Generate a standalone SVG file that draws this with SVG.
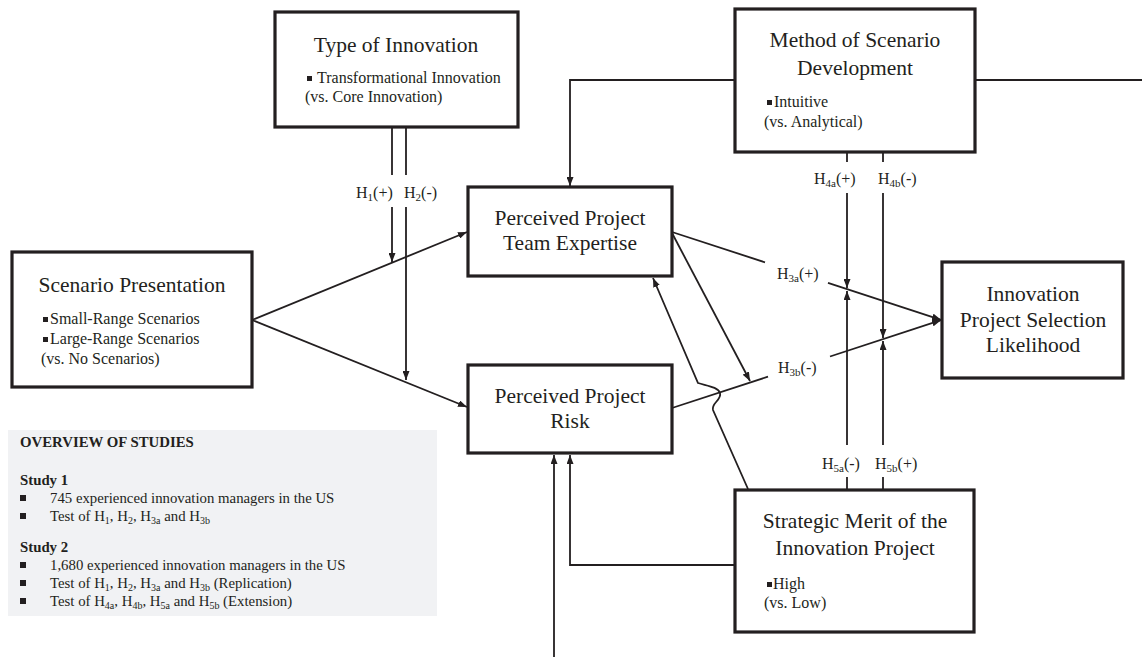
<svg xmlns="http://www.w3.org/2000/svg" width="1142" height="657" viewBox="0 0 1142 657">
<defs>
<marker id="arr" markerUnits="userSpaceOnUse" markerWidth="9" markerHeight="7" refX="9" refY="3.5" orient="auto">
<path d="M0,0 L9,3.5 L0,7 z" fill="#231f20"/>
</marker>
<style>
.box{fill:#fff;stroke:#231f20;stroke-width:3.2}
.t{font-family:"Liberation Serif","Times New Roman",serif;fill:#231f20}
.title{font-size:21.5px;text-anchor:middle}
.sm{font-size:16px}
.lab{font-size:16px}
.ov{font-size:14.8px}
.b{font-weight:bold}
.c{fill:none;stroke:#231f20;stroke-width:1.8}
.a{marker-end:url(#arr)}
.sq{fill:#231f20}
</style>
</defs>
<rect width="1142" height="657" fill="#fff"/>

<g id="connectors">
<line class="c a" x1="252" y1="320" x2="467" y2="232"/>
<line class="c a" x1="252" y1="320" x2="467" y2="407"/>
<line class="c" x1="392" y1="127" x2="392" y2="175"/>
<line class="c a" x1="392" y1="207" x2="392" y2="262"/>
<line class="c" x1="406" y1="127" x2="406" y2="175"/>
<line class="c a" x1="406" y1="207" x2="406" y2="380"/>
<polyline class="c a" points="735,80 570,80 570,186"/>
<line class="c" x1="975" y1="80" x2="1142" y2="80"/>
<line class="c" x1="672" y1="232" x2="765" y2="262.3"/>
<line class="c a" x1="828" y1="282.9" x2="941" y2="319.8"/>
<line class="c" x1="672" y1="408" x2="768" y2="376.7"/>
<line class="c a" x1="830" y1="356.5" x2="941" y2="320.2"/>
<line class="c a" x1="672" y1="233" x2="750" y2="381"/>
<path class="c a" d="M748,489 L713,410 C711,403 722,400 720,393 C718,387 708,386 698,383 L653,278"/>
<line class="c" x1="847" y1="152" x2="847" y2="162"/>
<line class="c a" x1="847" y1="193" x2="847" y2="288"/>
<line class="c" x1="883" y1="152" x2="883" y2="162"/>
<line class="c a" x1="883" y1="193" x2="883" y2="338"/>
<line class="c" x1="847" y1="490" x2="847" y2="477"/>
<line class="c a" x1="847" y1="445" x2="847" y2="291"/>
<line class="c" x1="883" y1="490" x2="883" y2="477"/>
<line class="c a" x1="883" y1="445" x2="883" y2="341"/>
<line class="c a" x1="554" y1="657" x2="554" y2="455"/>
<polyline class="c a" points="735,565 570,565 570,455"/>
</g>

<g id="type-of-innovation">
<rect class="box" x="275" y="12" width="243" height="115"/>
<text class="t title" x="396" y="52">Type of Innovation</text>
<rect class="sq" x="307" y="76" width="5" height="5"/>
<text class="t sm" x="317" y="83">Transformational Innovation</text>
<text class="t sm" x="305" y="102">(vs. Core Innovation)</text>
</g>

<g id="method-of-scenario-development">
<rect class="box" x="735" y="9" width="240" height="143"/>
<text class="t title" x="855" y="47">Method of Scenario</text>
<text class="t title" x="855" y="75">Development</text>
<rect class="sq" x="767" y="100" width="5" height="5"/>
<text class="t sm" x="774" y="107">Intuitive</text>
<text class="t sm" x="764" y="127">(vs. Analytical)</text>
</g>

<g id="scenario-presentation">
<rect class="box" x="12" y="252" width="240" height="135"/>
<text class="t title" x="132" y="292">Scenario Presentation</text>
<rect class="sq" x="43" y="317" width="5" height="5"/>
<text class="t sm" x="50" y="324">Small-Range Scenarios</text>
<rect class="sq" x="43" y="337" width="5" height="5"/>
<text class="t sm" x="50" y="344">Large-Range Scenarios</text>
<text class="t sm" x="41" y="364">(vs. No Scenarios)</text>
</g>

<g id="team-expertise">
<rect class="box" x="468" y="187" width="204" height="89"/>
<text class="t title" x="570" y="225">Perceived Project</text>
<text class="t title" x="570" y="250">Team Expertise</text>
</g>

<g id="project-risk">
<rect class="box" x="468" y="365" width="204" height="88"/>
<text class="t title" x="570" y="403">Perceived Project</text>
<text class="t title" x="570" y="428">Risk</text>
</g>

<g id="selection-likelihood">
<rect class="box" x="942" y="262" width="181" height="116"/>
<text class="t title" x="1033" y="301">Innovation</text>
<text class="t title" x="1033" y="327">Project Selection</text>
<text class="t title" x="1033" y="352">Likelihood</text>
</g>

<g id="strategic-merit">
<rect class="box" x="735" y="490" width="239" height="142"/>
<text class="t title" x="855" y="528">Strategic Merit of the</text>
<text class="t title" x="855" y="555">Innovation Project</text>
<rect class="sq" x="767" y="582" width="5" height="5"/>
<text class="t sm" x="773" y="589">High</text>
<text class="t sm" x="764" y="608">(vs. Low)</text>
</g>

<g id="labels">
<text class="t lab" x="356" y="198">H<tspan font-size="11" dy="3">1</tspan><tspan dy="-3">(+)</tspan></text>
<text class="t lab" x="404" y="198">H<tspan font-size="11" dy="3">2</tspan><tspan dy="-3">(-)</tspan></text>
<text class="t lab" x="814" y="184">H<tspan font-size="11" dy="3">4a</tspan><tspan dy="-3">(+)</tspan></text>
<text class="t lab" x="878" y="184">H<tspan font-size="11" dy="3">4b</tspan><tspan dy="-3">(-)</tspan></text>
<text class="t lab" x="777" y="279">H<tspan font-size="11" dy="3">3a</tspan><tspan dy="-3">(+)</tspan></text>
<text class="t lab" x="778" y="373">H<tspan font-size="11" dy="3">3b</tspan><tspan dy="-3">(-)</tspan></text>
<text class="t lab" x="822" y="469">H<tspan font-size="11" dy="3">5a</tspan><tspan dy="-3">(-)</tspan></text>
<text class="t lab" x="875" y="469">H<tspan font-size="11" dy="3">5b</tspan><tspan dy="-3">(+)</tspan></text>
</g>

<g id="overview">
<rect x="8" y="430" width="429" height="186" fill="#f1f2f4"/>
<text class="t ov b" x="20" y="447">OVERVIEW OF STUDIES</text>
<text class="t ov b" x="20" y="485">Study 1</text>
<rect class="sq" x="20" y="495" width="6" height="6"/>
<text class="t ov" x="50" y="503">745 experienced innovation managers in the US</text>
<rect class="sq" x="20" y="513" width="6" height="6"/>
<text class="t ov" x="50" y="521">Test of H<tspan font-size="10" dy="3">1</tspan><tspan dy="-3">, H</tspan><tspan font-size="10" dy="3">2</tspan><tspan dy="-3">, H</tspan><tspan font-size="10" dy="3">3a</tspan><tspan dy="-3"> and H</tspan><tspan font-size="10" dy="3">3b</tspan></text>
<text class="t ov b" x="20" y="552">Study 2</text>
<rect class="sq" x="20" y="562" width="6" height="6"/>
<text class="t ov" x="50" y="570">1,680 experienced innovation managers in the US</text>
<rect class="sq" x="20" y="580" width="6" height="6"/>
<text class="t ov" x="50" y="588">Test of H<tspan font-size="10" dy="3">1</tspan><tspan dy="-3">, H</tspan><tspan font-size="10" dy="3">2</tspan><tspan dy="-3">, H</tspan><tspan font-size="10" dy="3">3a</tspan><tspan dy="-3"> and H</tspan><tspan font-size="10" dy="3">3b</tspan><tspan dy="-3"> (Replication)</tspan></text>
<rect class="sq" x="20" y="598" width="6" height="6"/>
<text class="t ov" x="50" y="606">Test of H<tspan font-size="10" dy="3">4a</tspan><tspan dy="-3">, H</tspan><tspan font-size="10" dy="3">4b</tspan><tspan dy="-3">, H</tspan><tspan font-size="10" dy="3">5a</tspan><tspan dy="-3"> and H</tspan><tspan font-size="10" dy="3">5b</tspan><tspan dy="-3"> (Extension)</tspan></text>
</g>
</svg>
